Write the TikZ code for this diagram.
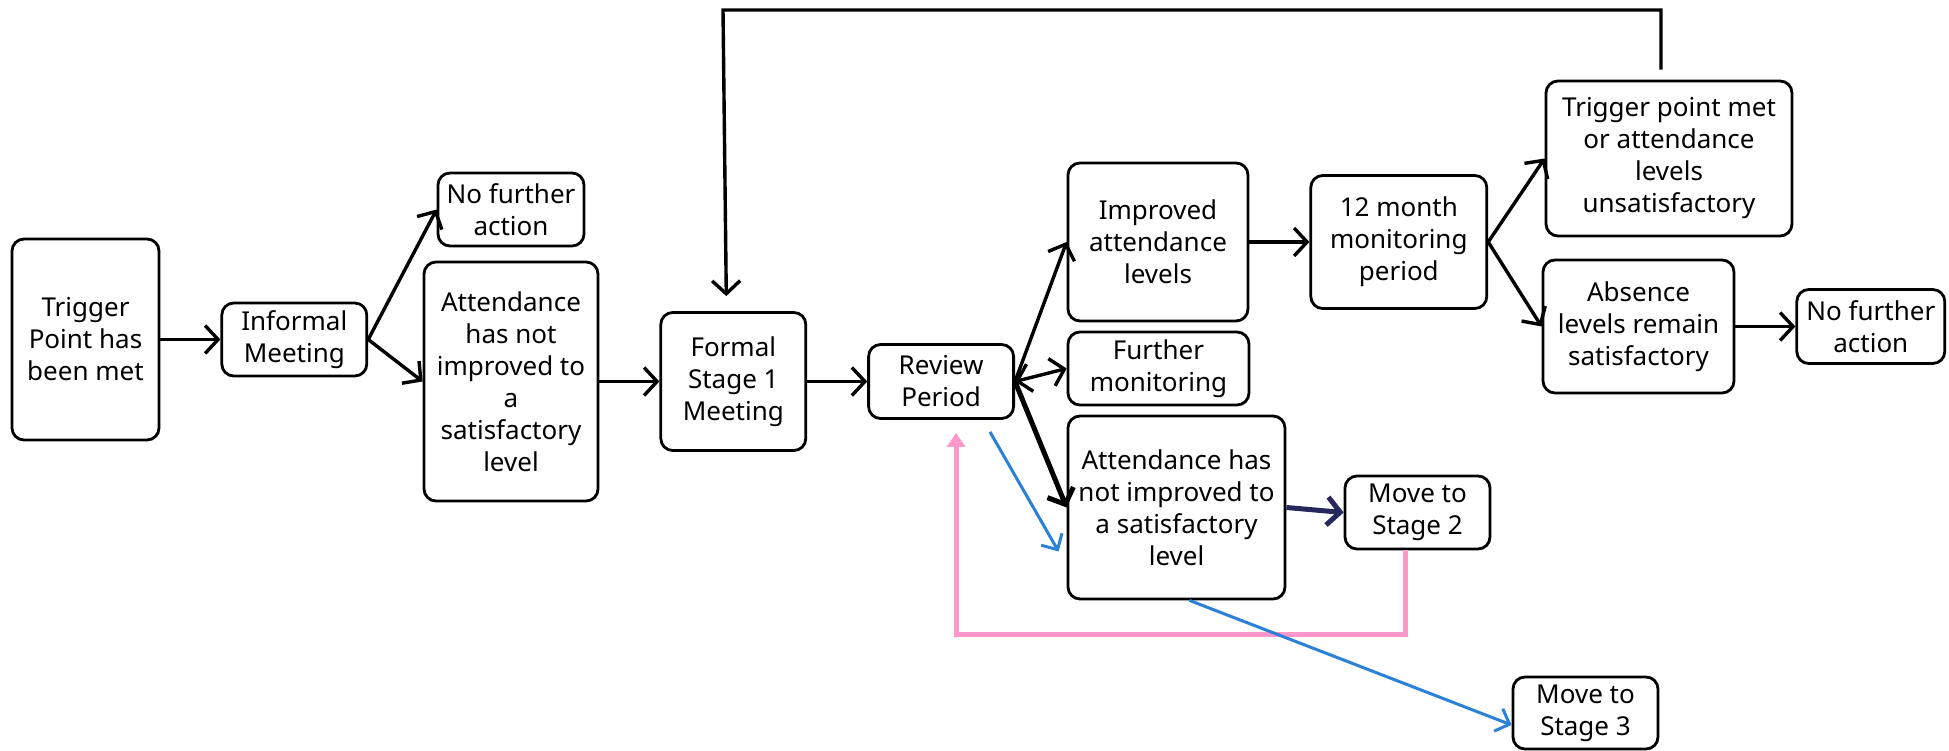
\documentclass[tikz,border=0pt]{standalone}
\usepackage{fontspec}
\setmainfont{Noto Sans}
\usepackage{tikz}
\usetikzlibrary{arrows.meta,positioning}
\definecolor{loopink}{RGB}{255,153,204}
\definecolor{stageblue}{RGB}{43,128,216}
\definecolor{stagenavy}{RGB}{38,40,92}

\begin{document}
\begin{tikzpicture}[x=1pt,y=-1pt,node distance=60pt,
  box/.style={draw,rounded corners=12pt,line width=2.8pt,align=center,
    inner sep=0pt,font=\fontsize{26}{32}\selectfont},
  barb/.tip={Straight Barb[length=13pt,width=28pt]},
  flow/.style={line width=3.4pt,-barb},
  bold flow/.style={flow,line width=5pt},
  blue flow/.style={line width=3pt,stageblue,-{Straight Barb[length=12pt,width=24pt]}},
  pink flow/.style={line width=5pt,loopink,-{Triangle[length=14pt,width=18pt]}}]
\useasboundingbox (0,0) rectangle (1949,751);

\node[box,minimum width=147pt,minimum height=201pt] (trig) at (85.5,339.5) {Trigger\\Point has\\been met};
\node[box,minimum width=145pt,minimum height=73pt] (informal) [right=of trig] {Informal\\Meeting};
\node[box,minimum width=146pt,minimum height=73pt] (nfa1) at (511,209.5) {No further\\action};
\node[box,minimum width=174pt,minimum height=239pt] (att1) at (511,381.5) {Attendance\\has not\\improved to\\a\\satisfactory\\level};
\node[box,minimum width=145pt,minimum height=138pt] (formal) [right=of att1] {Formal\\Stage 1\\Meeting};
\node[box,minimum width=145pt,minimum height=74pt] (review) [right=of formal] {Review\\Period};
\node[box,minimum width=180pt,minimum height=158pt] (improved) at (1158,242) {Improved\\attendance\\levels};
\node[box,minimum width=181pt,minimum height=73pt] (further) at (1158.5,368.5) {Further\\monitoring};
\node[box,minimum width=217pt,minimum height=183pt] (att2) at (1176.5,507.5) {Attendance has\\not improved to\\a satisfactory\\level};
\node[box,minimum width=176pt,minimum height=133pt] (month) [right=of improved] {12 month\\monitoring\\period};
\node[box,minimum width=246pt,minimum height=155pt] (trigpt) at (1669,158.5) {Trigger point met\\or attendance\\levels\\unsatisfactory};
\node[box,minimum width=191pt,minimum height=133pt] (absence) at (1638.5,326.5) {Absence\\levels remain\\satisfactory};
\node[box,minimum width=148pt,minimum height=74pt] (nfa2) [right=of absence] {No further\\action};
\node[box,minimum width=145pt,minimum height=73pt] (stage2) at (1417.5,512.5) {Move to\\Stage 2};
\node[box,minimum width=145pt,minimum height=72pt] (stage3) at (1585.5,713) {Move to\\Stage 3};

\path[flow]
  (trig) edge (informal)
  (informal.east) edge (nfa1.west)
  (informal.east) edge (att1.west)
  (att1) edge (formal)
  (formal) edge (review)
  (review.east) edge (improved.west)
  (improved) edge (month)
  (month.east) edge (trigpt.west)
  (month.east) edge (absence.west)
  (absence) edge (nfa2)
  ;
\draw[flow,barb-barb] (review.east) -- (further.west);
\draw[bold flow] (review.east) -- (att2.west);
\draw[bold flow,stagenavy] (att2.east) -- (stage2.west);

% back to stage 1
\coordinate (looptop) at (723,10);
\draw[flow] ([xshift=-8pt,yshift=10pt]trigpt.north) |- (looptop)
  -- ([xshift=-7pt,yshift=15pt]formal.north);

% stage 2 loops back to review
\draw[pink flow] ([xshift=-12pt]stage2.south) -- ++(0,84)
  -| ([xshift=15pt,yshift=-13pt]review.south);

\draw[blue flow] ([xshift=-25pt,yshift=-12pt]review.south east) -- ([xshift=-8pt,yshift=-44pt]att2.west);
\draw[blue flow] ([xshift=13pt]att2.south) -- ([yshift=-12pt]stage3.west);
\end{tikzpicture}
\end{document}
